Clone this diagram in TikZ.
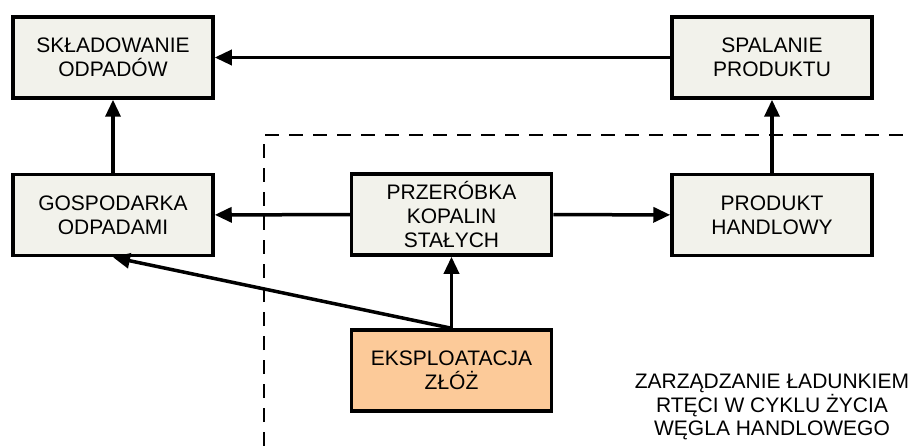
\documentclass[tikz,border=0pt]{standalone}
\usepackage{fontspec}
\setmainfont{Liberation Sans}
\usepackage{xcolor}
\usetikzlibrary{arrows.meta}

\definecolor{boxgray}{RGB}{242,242,235}
\definecolor{boxorange}{RGB}{252,202,153}

\begin{document}
\begin{tikzpicture}[x=1pt, y=-1pt,
    box/.style={draw, rectangle, line width=3.5pt, minimum width=200pt, minimum height=81pt,
        fill=boxgray, align=center, font=\fontsize{21}{24}\selectfont},
    flow/.style={-{Triangle[length=17pt, width=15pt]}, line width=3.5pt}]
            \useasboundingbox (0,0) rectangle (912,446);

            \node[box] (skl) at (113,57.5) {SKŁADOWANIE\\ODPADÓW};
            \node[box] (spal) at (772,57.5) {SPALANIE\\PRODUKTU};
            \node[box] (gosp) at (113,215) {GOSPODARKA\\ODPADAMI};
            \node[box] (przer) at (451.5,214.5) {PRZERÓBKA\\KOPALIN\\STAŁYCH};
            \node[box] (prod) at (772,215) {PRODUKT\\HANDLOWY};
            \node[box, fill=boxorange] (eks) at (451.5,370.5) {EKSPLOATACJA\\ZŁÓŻ};

            \draw[dash pattern=on 14pt off 10pt, line width=1.8pt] (264,446) -- (264,135) -- (912,135);
            \node[align=center, font=\fontsize{21}{23.5}\selectfont] (zarz) at (772,407)
                {ZARZĄDZANIE ŁADUNKIEM\\RTĘCI W CYKLU ŻYCIA\\WĘGLA HANDLOWEGO};

            \draw[flow] (spal) -- (skl);
            \draw[flow] (gosp) -- (skl);
            \draw[flow] (prod) -- (spal);
            \draw[flow] (przer) -- (gosp);
            \draw[flow] (przer) -- (prod);
            \draw[flow] (eks) -- (przer);
            \draw[flow] (eks.north) -- (gosp.south);
        \end{tikzpicture}
\end{document}
